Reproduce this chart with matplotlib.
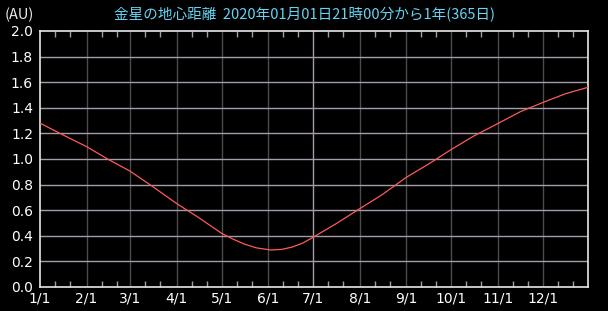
"""
Venus geocentric distance over 2020, drawn on a black chart with a
Japanese title, month grid and small inward ticks on the 11th and 21st.
"""

import datetime as dt

import matplotlib
matplotlib.use("Agg")
import matplotlib.pyplot as plt
import matplotlib.dates as mdates


# values (AU)
DATES = [
    "2020-01-01", "2020-01-16", "2020-02-01", "2020-02-15", "2020-03-01",
    "2020-03-16", "2020-04-01", "2020-04-16", "2020-05-01", "2020-05-08",
    "2020-05-16", "2020-05-24", "2020-06-01", "2020-06-03", "2020-06-10",
    "2020-06-17", "2020-06-24", "2020-07-01", "2020-07-16", "2020-08-01",
    "2020-08-16", "2020-09-01", "2020-09-16", "2020-10-01", "2020-10-16",
    "2020-11-01", "2020-11-16", "2020-12-01", "2020-12-16", "2020-12-31",
]
DISTANCE = [
    1.280, 1.190, 1.097, 1.000, 0.905,
    0.785, 0.652, 0.540, 0.419, 0.377,
    0.336, 0.306, 0.292, 0.289, 0.294,
    0.312, 0.343, 0.389, 0.493, 0.612,
    0.722, 0.857, 0.962, 1.075, 1.180,
    1.277, 1.370, 1.442, 1.510, 1.560,
]
Y_TICKS = [0.0, 0.2, 0.4, 0.6, 0.8, 1.0, 1.2, 1.4, 1.6, 1.8, 2.0]

TITLE = "金星の地心距離  2020年01月01日21時00分から1年(365日)"
UNIT = "(AU)"

plt.rcParams["font.family"] = ["Noto Sans CJK JP", "DejaVu Sans"]


def main():
    dates = [dt.datetime.strptime(d, "%Y-%m-%d") for d in DATES]

    fig = plt.figure(figsize=(6.08, 3.11), dpi=100, facecolor="black")
    ax = fig.add_axes([40 / 608, 24 / 311, 548 / 608, 256 / 311])
    ax.set_facecolor("black")

    # grid: dark month lines, light value lines, light mid-year line
    for m in range(2, 13):
        col = "#a49cac" if m == 7 else "#4c4c4c"
        ax.axvline(dt.datetime(2020, m, 1), color=col, lw=1.0, zorder=1)
    for v in Y_TICKS[1:-1]:
        ax.axhline(v, color="#a49cac", lw=1.0, zorder=1)

    ax.plot(dates, DISTANCE, color="#ff5a5a", lw=0.9, zorder=3)

    ax.set_xlim(dt.datetime(2020, 1, 1), dt.datetime(2020, 12, 31))
    ax.set_ylim(0.0, 2.0)

    ax.xaxis.set_major_locator(mdates.MonthLocator())
    ax.xaxis.set_major_formatter(
        matplotlib.ticker.FuncFormatter(
            lambda x, pos: "%d/1" % mdates.num2date(x).month))
    ax.xaxis.set_minor_locator(mdates.DayLocator(bymonthday=[11, 21]))
    ax.set_yticks(Y_TICKS)
    ax.set_yticklabels(["%.1f" % v for v in Y_TICKS])

    ax.tick_params(axis="x", which="major", length=0, pad=3,
                   labelsize=10, labelcolor="white")
    ax.tick_params(axis="x", which="minor", direction="in", length=4,
                   top=True, bottom=True, color="#a0a0a0", width=1.0)
    ax.tick_params(axis="y", which="major", length=0, pad=5,
                   labelsize=10, labelcolor="white")
    for lab in ax.get_xticklabels() + ax.get_yticklabels():
        lab.set_family("DejaVu Sans")

    for side in ["left", "right", "top", "bottom"]:
        ax.spines[side].set_color("#e8e8e8")
        ax.spines[side].set_linewidth(1.2)

    fig.text(0.5, 1 - 15 / 311, TITLE, ha="center", va="center",
             color="#66d4f4", fontsize=10.5)
    fig.text(5 / 608, 1 - 15 / 311, UNIT, ha="left", va="center",
             color="#e8e8e8", fontsize=10.5)

    fig.savefig("out.png", dpi=100, facecolor="black")


if __name__ == "__main__":
    main()
